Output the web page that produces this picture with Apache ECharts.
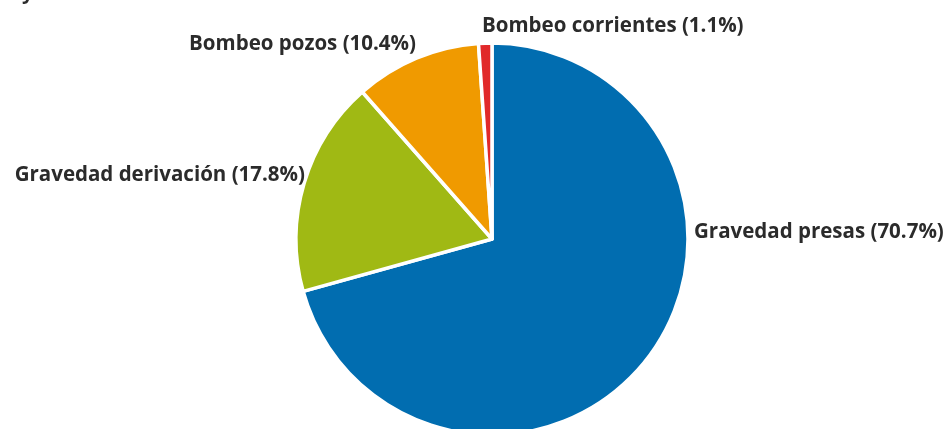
<!DOCTYPE html>
<html>
<head>
<meta charset="utf-8">
<script src="https://cdn.jsdelivr.net/npm/echarts@6/dist/echarts.min.js"></script>
<style>
  html, body { margin: 0; padding: 0; background: #fff; }
  #chart { width: 948px; height: 429px; }
</style>
</head>
<body>
<div id="chart"></div>
<script>
// datos (porcentajes)
var categories = ['Gravedad presas', 'Gravedad derivación', 'Bombeo pozos', 'Bombeo corrientes'];
var shares = [70.7, 17.8, 10.4, 1.1];
var colors = ['#016db0', '#a0b914', '#f09a00', '#e1292a'];

// posiciones de las etiquetas [x, y, align]
var labelPos = [
  [694, 232, 'left'],
  [305, 175, 'right'],
  [416, 44, 'right'],
  [482, 26, 'left']
];

var myChart = echarts.init(document.getElementById('chart'));

var option = {
  animation: false,
  graphic: [{
    type: 'text',
    left: 22,
    top: -17,
    style: { text: 'y', font: 'bold 20px "Open Sans"', fill: '#2b2b2b' }
  }],
  series: [{
    type: 'pie',
    center: [492, 239],
    radius: 196,
    startAngle: 90,
    clockwise: true,
    itemStyle: { borderColor: '#fff', borderWidth: 3.5 },
    label: {
      show: true,
      position: 'outside',
      formatter: '{b} ({c}%)',
      fontFamily: 'Open Sans',
      fontWeight: 'bold',
      fontSize: 20.5,
      color: '#2b2b2b',
      overflow: 'none',
      width: 400
    },
    labelLine: { show: false },
    labelLayout: function (params) {
      var p = labelPos[params.dataIndex];
      return { x: p[0], y: p[1], align: p[2], verticalAlign: 'middle' };
    },
    emphasis: { disabled: true },
    data: categories.map(function (name, i) {
      return { name: name, value: shares[i], itemStyle: { color: colors[i] } };
    })
  }]
};

myChart.setOption(option);
</script>
</body>
</html>
